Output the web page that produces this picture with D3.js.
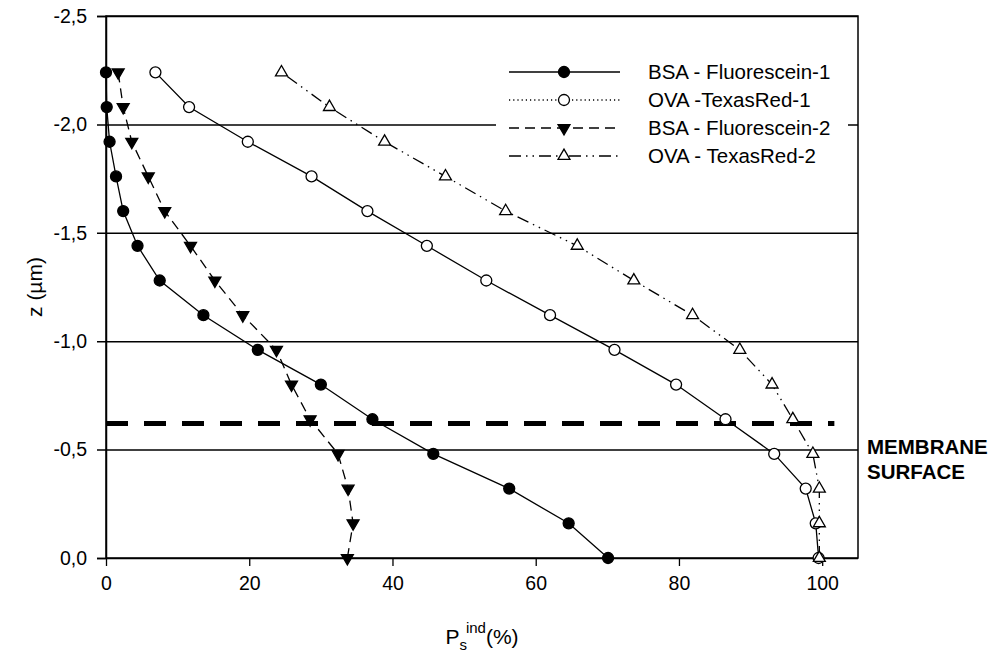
<!DOCTYPE html>
<html>
<head>
<meta charset="utf-8">
<script src="https://cdn.jsdelivr.net/npm/d3@7"></script>
<style>
  body { margin: 0; background: #fff; }
  svg { font-family: "Liberation Sans", Arial, sans-serif; }
</style>
</head>
<body>
<svg width="998" height="656"></svg>
<script>
// depth values (um), from the membrane (0) upwards
const zValues = [0, -0.16, -0.32, -0.48, -0.64, -0.8, -0.96, -1.12, -1.28, -1.44, -1.6, -1.76, -1.92, -2.08, -2.24];

// P_s^ind (%) for each series, same order as zValues
const bsaFluo1 = [70.1, 64.6, 56.3, 45.7, 37.2, 30.0, 21.2, 13.6, 7.5, 4.4, 2.4, 1.4, 0.5, 0.1, 0];
const ovaTexas1 = [99.5, 99.1, 97.7, 93.3, 86.5, 79.6, 71.0, 62.0, 53.1, 44.8, 36.5, 28.7, 19.8, 11.6, 6.9];
const bsaFluo2 = [33.7, 34.5, 33.8, 32.4, 28.5, 25.9, 23.8, 19.1, 15.2, 11.8, 8.2, 5.9, 3.6, 2.4, 1.7];
const ovaTexas2 = [99.6, 99.6, 99.6, 98.7, 95.9, 93.0, 88.5, 81.9, 73.7, 65.8, 55.8, 47.4, 38.9, 31.2, 24.5];

const seriesNames = ["BSA - Fluorescein-1", "OVA -TexasRed-1", "BSA - Fluorescein-2", "OVA - TexasRed-2"];

const xTicks = [0, 20, 40, 60, 80, 100];
const yTicks = [0, -0.5, -1.0, -1.5, -2.0, -2.5];
const membraneZ = -0.62;

const svg = d3.select("svg");

const plotLeft = 106, plotRight = 858, plotTop = 16, plotBottom = 558;

const x = d3.scaleLinear().domain([0, 105]).range([plotLeft, plotRight]);
const y = d3.scaleLinear().domain([0, -2.5]).range([plotBottom, plotTop]);

const fmtComma = v => (Math.abs(v) < 1e-9 ? "0,0" : v.toFixed(1).replace(".", ","));

// y axis with gridlines
const yAxis = svg.append("g")
  .attr("transform", `translate(${plotLeft},0)`)
  .call(d3.axisLeft(y).tickValues(yTicks).tickSize(9).tickPadding(10).tickFormat(fmtComma));
yAxis.select(".domain").attr("stroke", "#000").attr("stroke-width", 1.5);
yAxis.selectAll(".tick line")
  .attr("x1", -9)
  .attr("x2", plotRight - plotLeft)
  .attr("stroke", "#000")
  .attr("stroke-width", 1.5);
yAxis.selectAll(".tick text")
  .attr("font-size", 19.5)
  .attr("font-family", "Liberation Sans, Arial, sans-serif")
  .attr("fill", "#000");

// x axis
const xAxis = svg.append("g")
  .attr("transform", `translate(0,${plotBottom})`)
  .call(d3.axisBottom(x).tickValues(xTicks).tickSize(8).tickPadding(10).tickFormat(d3.format("d")));
xAxis.select(".domain").remove();
xAxis.selectAll(".tick line").attr("stroke", "#000").attr("stroke-width", 1.3);
xAxis.selectAll(".tick text")
  .attr("font-size", 19.5)
  .attr("font-family", "Liberation Sans, Arial, sans-serif")
  .attr("fill", "#000");

// frame
svg.append("rect")
  .attr("x", plotLeft).attr("y", plotTop)
  .attr("width", plotRight - plotLeft).attr("height", plotBottom - plotTop)
  .attr("fill", "none").attr("stroke", "#000").attr("stroke-width", 1.5);

// membrane surface line
svg.append("line")
  .attr("x1", x(0)).attr("x2", x(101.7))
  .attr("y1", y(membraneZ)).attr("y2", y(membraneZ))
  .attr("stroke", "#000").attr("stroke-width", 5)
  .attr("stroke-dasharray", "22,16");

svg.append("text").attr("x", 867).attr("y", 454)
  .attr("font-size", 20.5).attr("font-weight", "bold").text("MEMBRANE");
svg.append("text").attr("x", 867).attr("y", 479)
  .attr("font-size", 20.5).attr("font-weight", "bold").text("SURFACE");

const series = [
  { name: seriesNames[0], values: bsaFluo1, dash: null, legendDash: null, marker: "circle", fill: "#000" },
  { name: seriesNames[1], values: ovaTexas1, dash: null, legendDash: "1.2,3", marker: "circle", fill: "#fff" },
  { name: seriesNames[2], values: bsaFluo2, dash: "10,6", legendDash: "10,6", marker: "down", fill: "#000" },
  { name: seriesNames[3], values: ovaTexas2, dash: "12,5,1.5,5,1.5,5", legendDash: "12,5,1.5,5,1.5,5", marker: "up", fill: "#fff" }
];

const line = d3.line().x(d => x(d[0])).y(d => y(d[1]));

function drawMarker(g, type, fill, cx, cy) {
  if (type === "circle") {
    g.append("circle").attr("cx", cx).attr("cy", cy).attr("r", 5.5)
      .attr("fill", fill).attr("stroke", "#000").attr("stroke-width", 1.3);
  } else {
    const rot = type === "down" ? 180 : 0;
    g.append("path")
      .attr("d", d3.symbol().type(d3.symbolTriangle).size(62)())
      .attr("transform", `translate(${cx},${cy}) rotate(${rot})`)
      .attr("fill", fill).attr("stroke", "#000").attr("stroke-width", 1.3);
  }
}

series.forEach(s => {
  const pts = s.values.map((v, i) => [v, zValues[i]]);
  svg.append("path")
    .datum(pts)
    .attr("d", line)
    .attr("fill", "none")
    .attr("stroke", "#000")
    .attr("stroke-width", 1.3)
    .attr("stroke-dasharray", s.dash);
  const g = svg.append("g");
  pts.forEach(p => drawMarker(g, s.marker, s.fill, x(p[0]), y(p[1])));
});

// legend
const legend = svg.append("g");
legend.append("rect")
  .attr("x", 496).attr("y", 58).attr("width", 352).attr("height", 112)
  .attr("fill", "#fff");
series.forEach((s, i) => {
  const ly = 72 + i * 28;
  legend.append("line")
    .attr("x1", 509).attr("x2", 620).attr("y1", ly).attr("y2", ly)
    .attr("stroke", "#000").attr("stroke-width", 1.3)
    .attr("stroke-dasharray", s.legendDash);
  drawMarker(legend, s.marker, s.fill, 564, ly);
  legend.append("text")
    .attr("x", 648).attr("y", ly + 7)
    .attr("font-size", 20.5)
    .text(s.name);
});

// axis titles
svg.append("text")
  .attr("transform", "rotate(-90)")
  .attr("x", -287).attr("y", 42)
  .attr("text-anchor", "middle")
  .attr("font-size", 21)
  .text("z (\u00b5m)");

const xt = svg.append("text")
  .attr("x", 482).attr("y", 644)
  .attr("text-anchor", "middle")
  .attr("font-size", 21);
xt.append("tspan").text("P");
xt.append("tspan").attr("dy", 6).attr("font-size", 15).text("s");
xt.append("tspan").attr("dy", -17).attr("dx", -1).attr("font-size", 15).text("ind");
xt.append("tspan").attr("dy", 11).text("(%)");
</script>
</body>
</html>
